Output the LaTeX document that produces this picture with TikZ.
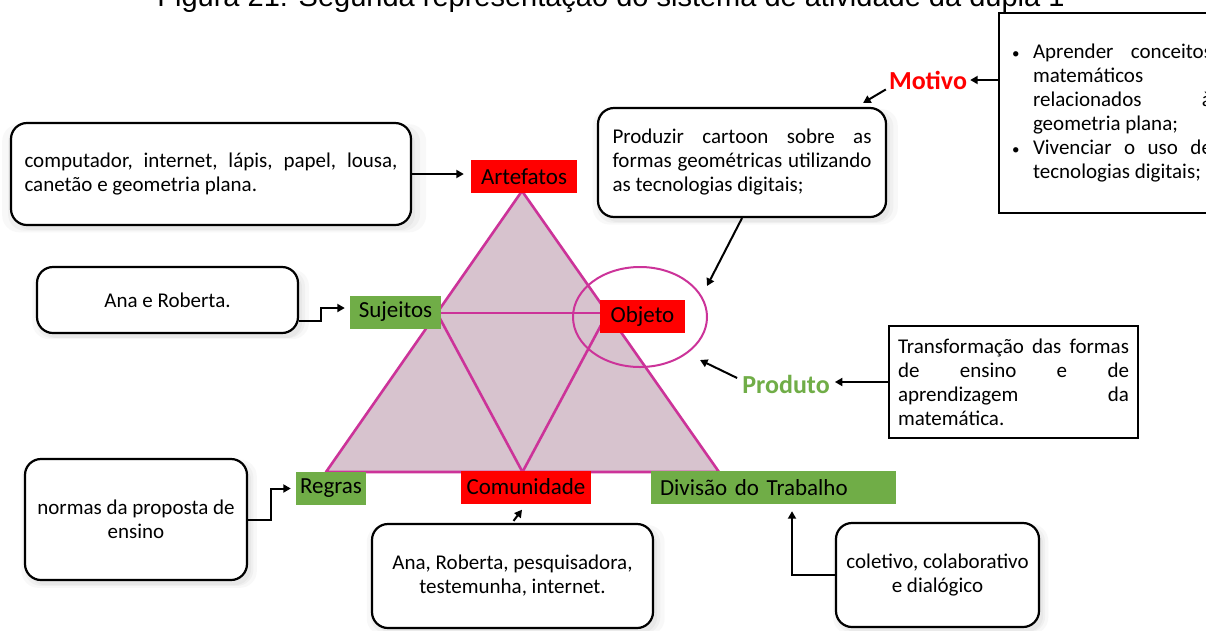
\documentclass[tikz,border=0pt]{standalone}
\usepackage{fontspec}
\setmainfont{Carlito}
\newfontfamily\arialf{Liberation Sans}
\usetikzlibrary{arrows.meta,shadows,shapes.geometric}
\definecolor{lblred}{HTML}{FF0000}
\definecolor{lblgreen}{HTML}{70AD47}
\definecolor{trimag}{HTML}{CC3399}
\definecolor{trifill}{HTML}{D7C3CE}
\hyphenpenalty=10000
\exhyphenpenalty=10000
\tikzset{
  softshadow/.style={
    drop shadow={shadow xshift=3pt,shadow yshift=-4pt,opacity=0.05,shadow scale=1.06},
    drop shadow={shadow xshift=3pt,shadow yshift=-4pt,opacity=0.06,shadow scale=1.03},
    drop shadow={shadow xshift=4pt,shadow yshift=-5pt,opacity=0.07}},
  rbox/.style={draw=black, line width=2.2pt, rounded corners=16pt, fill=white,
    inner sep=0pt, font=\fontsize{21}{24}\selectfont, softshadow},
  sbox/.style={draw=black, line width=2.2pt, fill=white, inner sep=0pt,
    font=\fontsize{21}{24}\selectfont},
  lab/.style={inner sep=0pt, minimum height=33pt, font=\fontsize{23}{26}\selectfont, text=black},
  redlab/.style={lab, fill=lblred},
  greenlab/.style={lab, fill=lblgreen},
  tri/.style={draw=trimag, line width=2.6pt, line join=round},
  arr/.style={draw=black, line width=2pt, -{Triangle[length=7.5pt,width=8pt]}},
}
\begin{document}
\begin{tikzpicture}[x=1pt,y=-1pt]
\useasboundingbox (0,0) rectangle (1206,630);
\fill[white] (0,0) rectangle (1206,630);
\clip (0,0) rectangle (1206,630);

% title (cut off at the top)
\node[anchor=base, inner sep=0pt, font=\arialf\fontsize{29}{33}\selectfont] (title) at (611,6)
  {Figura 21: Segunda representação do sistema de atividade da dupla 1};

% triangle
\coordinate (A) at (522,191);
\coordinate (L) at (326,472);
\coordinate (R) at (719,472);
\coordinate (P1) at (437,313);
\coordinate (P2) at (607.5,313);
\coordinate (M) at (522.5,472);
\fill[trifill] (A) -- (L) -- (R) -- cycle;
\draw[tri] (A) -- (L) -- (R) -- cycle;
\draw[tri] (P1) -- (P2);
\draw[tri] (P1) -- (M) -- (P2);

% ellipse around Objeto
\node[ellipse, draw=trimag, line width=2pt, minimum width=134pt, minimum height=100pt, inner sep=0pt] (circ) at (640,317) {};

% labels
\node[redlab, minimum width=106pt] (art) at (524,176.5) {Artefatos};
\node[greenlab, minimum width=91pt] (suj) at (395.5,312) {Sujeitos};
\node[redlab, minimum width=85pt] (obj) at (642.5,316.5) {Objeto};
\node[greenlab, minimum width=70pt] (reg) at (331,488.5) {Regras};
\node[redlab, minimum width=130pt] (com) at (526,487) {Comunidade};
\node[greenlab, minimum width=245pt, text width=227pt, align=left] (div) at (773.5,487.5) {Divisão do Trabalho};

\node[inner sep=0pt, text=lblred, font=\bfseries\fontsize{26}{30}\selectfont] (mot) at (928,80) {Motivo};
\node[inner sep=0pt, text=lblgreen, font=\bfseries\fontsize{26}{30}\selectfont] (pdt) at (786,384) {Produto};

% boxes
\node[rbox, minimum width=400pt, minimum height=102pt, text width=373pt, align=justify] (comp) at (211,174)
  {computador, internet, lápis, papel, lousa,\linebreak canetão e geometria plana.};
\node[rbox, minimum width=261pt, minimum height=66pt, align=center] (anab) at (167.5,300) {Ana e Roberta.};
\node[rbox, minimum width=222pt, minimum height=121pt, align=center] (norm) at (136,519.5)
  {normas da proposta de\\ensino};
\node[rbox, minimum width=281pt, minimum height=104pt, align=center] (anar) at (512.5,576)
  {Ana, Roberta, pesquisadora,\\testemunha, internet.};
\node[rbox, minimum width=203pt, minimum height=104pt, align=center] (col) at (937.5,575)
  {coletivo, colaborativo\\e dialógico};
\node[rbox, minimum width=288pt, minimum height=109pt, text width=259pt, align=justify] (prod) at (742,162.5)
  {Produzir cartoon sobre as\linebreak formas geométricas utilizando\linebreak as tecnologias digitais;};
\node[sbox, minimum width=249pt, minimum height=112pt, text width=231pt, align=justify] (trans) at (1013.5,382)
  {Transformação das formas\linebreak de ensino e de\linebreak aprendizagem da\linebreak matemática.};
\node[sbox, minimum width=226pt, minimum height=200pt, text width=200pt, align=justify] (mbox) at (1112,113)
  {\hangindent=21pt\hangafter=1\noindent\makebox[21pt][l]{\fontsize{15}{15}\selectfont •}Aprender conceitos\linebreak matemáticos\linebreak relacionados à\linebreak geometria plana;\par
   \hangindent=21pt\hangafter=1\noindent\makebox[21pt][l]{\fontsize{15}{15}\selectfont •}Vivenciar o uso de\linebreak tecnologias digitais;\par};

% connectors
\coordinate (objtip) at (707,286);
\coordinate (pdttip) at (700,360);
\draw[arr, shorten >=7pt] (comp.east) -- (comp.east -| art.west);
\draw[arr] ([yshift=-21pt]anab.east) -- ++(22,0) |- ([xshift=-5pt,yshift=4pt]suj.west);
\draw[arr] (norm.east) -- ++(23,0) |- ([xshift=-5pt]reg.west);
\draw[arr] ([xshift=1pt,yshift=2pt]anar.north) -- ([xshift=-4pt,yshift=-6pt]com.south);
\draw[arr] (col.west) -| ([xshift=18.5pt,yshift=-7pt]div.south);
\draw[arr, shorten >=5pt] (trans.west) -- (trans.west -| pdt.east);
\draw[arr] ([xshift=-5pt,yshift=6pt]pdt.west) -- (pdttip);
\draw[arr, shorten >=3pt] (mot.east -| mbox.west) -- (mot.east);
\draw[arr] ([xshift=-3pt]mot.south west) -- ([xshift=-24pt,yshift=4pt]prod.north east);
\draw[arr] (prod.south) -- (objtip);
\end{tikzpicture}
\end{document}
